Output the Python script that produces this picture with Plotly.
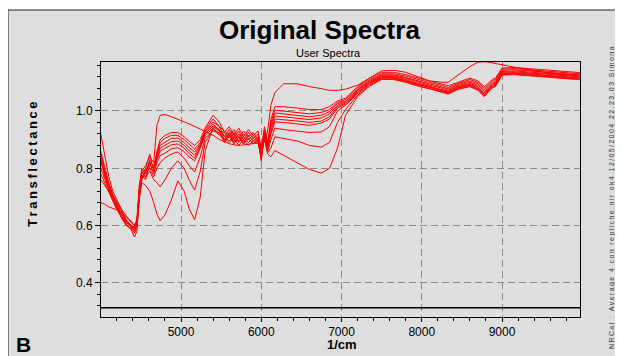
import plotly.graph_objects as go

# ---------------- data ----------------
wavenumber = [4000, 4050, 4100, 4150, 4200, 4260, 4320, 4380, 4420, 4450, 4480, 4510,
              4560, 4610, 4660, 4700, 4740, 4800,
              4880, 4960, 5040, 5100, 5170, 5240, 5300,
              5400, 5480, 5540, 5600, 5660, 5720, 5780, 5840, 5900, 5960, 6000, 6040, 6080,
              6120, 6170, 6280, 6450, 6600, 6750, 6850, 6950,
              7050, 7200, 7350, 7500, 7650, 7800, 7950, 8100, 8250, 8330, 8450, 8600, 8700,
              8780, 8840, 8880, 8920, 9000, 9150, 9400, 9700, 9970]

spectrum_01 = [0.84, 0.78, 0.73, 0.70, 0.68, 0.655, 0.63, 0.61, 0.60, 0.62, 0.74, 0.79,
               0.81, 0.84, 0.82, 0.95, 0.985, 0.988,
               0.98, 0.972, 0.962, 0.955, 0.947, 0.937, 0.928,
               0.915, 0.90, 0.892, 0.886, 0.882, 0.88, 0.882, 0.884, 0.886, 0.888, 0.88, 0.90, 0.93,
               1.02, 1.065, 1.095, 1.095, 1.085, 1.078, 1.072, 1.072,
               1.076, 1.09, 1.115, 1.14, 1.142, 1.135, 1.12, 1.105, 1.10, 1.10, 1.125, 1.155, 1.17,
               1.172, 1.17, 1.168, 1.165, 1.16, 1.152, 1.14, 1.13, 1.125]
spectrum_02 = [0.92, 0.84, 0.77, 0.72, 0.69, 0.66, 0.62, 0.60, 0.585, 0.60, 0.72, 0.80,
               0.78, 0.83, 0.80, 0.86, 0.90, 0.915,
               0.925, 0.925, 0.91, 0.895, 0.88, 0.90, 0.94,
               0.985, 0.96, 0.925, 0.945, 0.915, 0.94, 0.91, 0.935, 0.915, 0.93, 0.87, 0.945, 0.89,
               0.97, 1.015, 1.015, 1.01, 1.005, 1.005, 1.015, 1.035,
               1.045, 1.085, 1.115, 1.135, 1.135, 1.127, 1.115, 1.104, 1.094, 1.088, 1.10, 1.115, 1.105,
               1.085, 1.10, 1.11, 1.115, 1.15, 1.152, 1.147, 1.14, 1.134]
spectrum_03 = [0.86, 0.80, 0.75, 0.71, 0.68, 0.65, 0.615, 0.595, 0.58, 0.605, 0.73, 0.78,
               0.80, 0.85, 0.79, 0.85, 0.89, 0.905,
               0.915, 0.915, 0.90, 0.885, 0.867, 0.89, 0.935,
               0.972, 0.945, 0.93, 0.915, 0.935, 0.905, 0.93, 0.91, 0.925, 0.90, 0.86, 0.935, 0.885,
               0.96, 1.003, 1.00, 0.995, 0.99, 0.995, 1.005, 1.03,
               1.04, 1.08, 1.11, 1.13, 1.13, 1.122, 1.11, 1.099, 1.089, 1.082, 1.096, 1.11, 1.10,
               1.08, 1.096, 1.106, 1.11, 1.146, 1.148, 1.143, 1.136, 1.13]
spectrum_04 = [0.85, 0.79, 0.74, 0.705, 0.675, 0.64, 0.61, 0.60, 0.59, 0.60, 0.70, 0.77,
               0.79, 0.82, 0.81, 0.84, 0.88, 0.892,
               0.905, 0.905, 0.89, 0.872, 0.857, 0.885, 0.93,
               0.962, 0.945, 0.91, 0.935, 0.905, 0.93, 0.90, 0.925, 0.905, 0.92, 0.85, 0.93, 0.88,
               0.95, 0.993, 0.99, 0.985, 0.98, 0.985, 0.998, 1.025,
               1.035, 1.075, 1.106, 1.126, 1.126, 1.117, 1.105, 1.094, 1.084, 1.077, 1.092, 1.105, 1.095,
               1.074, 1.09, 1.10, 1.105, 1.142, 1.144, 1.139, 1.132, 1.126]
spectrum_05 = [0.82, 0.78, 0.735, 0.70, 0.665, 0.635, 0.60, 0.59, 0.575, 0.59, 0.71, 0.79,
               0.77, 0.81, 0.80, 0.835, 0.87, 0.88,
               0.893, 0.895, 0.88, 0.862, 0.846, 0.88, 0.925,
               0.955, 0.93, 0.925, 0.905, 0.925, 0.895, 0.92, 0.90, 0.915, 0.895, 0.83, 0.925, 0.875,
               0.94, 0.983, 0.98, 0.975, 0.97, 0.976, 0.99, 1.02,
               1.032, 1.072, 1.103, 1.123, 1.123, 1.114, 1.101, 1.09, 1.08, 1.073, 1.088, 1.10, 1.09,
               1.068, 1.086, 1.096, 1.10, 1.138, 1.14, 1.135, 1.128, 1.122]
spectrum_06 = [0.80, 0.76, 0.725, 0.69, 0.66, 0.63, 0.605, 0.585, 0.56, 0.58, 0.69, 0.76,
               0.80, 0.80, 0.79, 0.83, 0.86, 0.87,
               0.882, 0.885, 0.87, 0.852, 0.836, 0.875, 0.92,
               0.948, 0.935, 0.90, 0.925, 0.895, 0.92, 0.89, 0.915, 0.895, 0.91, 0.825, 0.92, 0.87,
               0.93, 0.972, 0.97, 0.965, 0.96, 0.965, 0.98, 1.015,
               1.028, 1.068, 1.10, 1.12, 1.12, 1.11, 1.097, 1.087, 1.077, 1.069, 1.085, 1.096, 1.085,
               1.063, 1.082, 1.092, 1.097, 1.135, 1.137, 1.132, 1.125, 1.119]
spectrum_07 = [0.83, 0.77, 0.73, 0.695, 0.66, 0.625, 0.60, 0.59, 0.59, 0.61, 0.72, 0.775,
               0.76, 0.82, 0.78, 0.82, 0.845, 0.853,
               0.868, 0.872, 0.858, 0.84, 0.826, 0.87, 0.915,
               0.94, 0.92, 0.915, 0.895, 0.915, 0.89, 0.91, 0.89, 0.905, 0.89, 0.835, 0.915, 0.865,
               0.92, 0.962, 0.96, 0.955, 0.95, 0.958, 0.972, 1.01,
               1.024, 1.064, 1.097, 1.117, 1.117, 1.107, 1.094, 1.084, 1.074, 1.066, 1.082, 1.093, 1.081,
               1.058, 1.078, 1.088, 1.094, 1.132, 1.134, 1.129, 1.122, 1.116]
spectrum_08 = [0.76, 0.74, 0.72, 0.69, 0.665, 0.64, 0.615, 0.60, 0.585, 0.60, 0.70, 0.76,
               0.79, 0.80, 0.77, 0.80, 0.82, 0.836,
               0.85, 0.857, 0.835, 0.81, 0.787, 0.84, 0.905,
               0.93, 0.925, 0.89, 0.915, 0.885, 0.91, 0.885, 0.905, 0.885, 0.90, 0.845, 0.91, 0.86,
               0.90, 0.94, 0.935, 0.93, 0.925, 0.927, 0.945, 1.00,
               1.02, 1.06, 1.094, 1.115, 1.115, 1.105, 1.092, 1.082, 1.072, 1.064, 1.08, 1.09, 1.078,
               1.055, 1.075, 1.085, 1.091, 1.13, 1.132, 1.127, 1.12, 1.114]
spectrum_09 = [0.78, 0.75, 0.715, 0.685, 0.655, 0.63, 0.61, 0.60, 0.595, 0.61, 0.71, 0.77,
               0.77, 0.79, 0.76, 0.75, 0.735, 0.76,
               0.80, 0.826, 0.80, 0.76, 0.724, 0.79, 0.89,
               0.935, 0.915, 0.905, 0.89, 0.905, 0.88, 0.90, 0.88, 0.895, 0.885, 0.85, 0.905, 0.855,
               0.87, 0.91, 0.905, 0.895, 0.88, 0.874, 0.89, 0.96,
               1.005, 1.055, 1.09, 1.112, 1.112, 1.102, 1.089, 1.079, 1.069, 1.061, 1.077, 1.087, 1.075,
               1.052, 1.072, 1.082, 1.088, 1.127, 1.129, 1.124, 1.117, 1.111]
spectrum_10 = [0.68, 0.675, 0.665, 0.66, 0.655, 0.645, 0.63, 0.615, 0.60, 0.62, 0.70, 0.75,
               0.74, 0.72, 0.68, 0.64, 0.617, 0.637,
               0.69, 0.756, 0.72, 0.66, 0.62, 0.70, 0.86,
               0.945, 0.93, 0.895, 0.92, 0.89, 0.91, 0.885, 0.905, 0.885, 0.90, 0.855, 0.90, 0.85,
               0.84, 0.862, 0.845, 0.82, 0.796, 0.783, 0.80, 0.87,
               0.985, 1.05, 1.087, 1.11, 1.11, 1.10, 1.087, 1.077, 1.067, 1.059, 1.075, 1.085, 1.072,
               1.05, 1.07, 1.08, 1.086, 1.125, 1.127, 1.122, 1.115, 1.109]

spectra = [spectrum_01, spectrum_02, spectrum_03, spectrum_04, spectrum_05,
           spectrum_06, spectrum_07, spectrum_08, spectrum_09, spectrum_10]

baseline_value = 0.313
x_tick_values = [5000, 6000, 7000, 8000, 9000]
y_tick_values = [0.4, 0.6, 0.8, 1.0]
y_tick_labels = ["0.4", "0.6", "0.8", "1.0"]

title_text = "Original Spectra"
subtitle_text = "User Spectra"
y_title = "Transflectance"
x_title = "1/cm"
side_note = "NRCal : Average 4 con repliche.nir ok4 12/05/2004 22.23.03 Simona"
panel_letter = "B"

# ---------------- layout geometry ----------------
# The page body has an 8px margin, so the figure starts at screen (8, 8).
OFF = 8
W, H = 623 - OFF, 356 - OFF
L, R, T, B = 101 - OFF, 43, 62 - OFF, 39
PW, PH = W - L - R, H - T - B
FONT = "Liberation Sans, Arial, sans-serif"


def fx(px):
    """screen x pixel -> paper fraction"""
    return (px - OFF - L) / PW


def fy(py):
    """screen y pixel -> paper fraction"""
    return (H - B - (py - OFF)) / PH


def spaced(s, sep="\u2009"):
    return sep.join(s)


fig = go.Figure()
for ys in spectra:
    fig.add_trace(go.Scatter(x=wavenumber, y=ys, mode="lines",
                             line=dict(color="#ff0000", width=1),
                             showlegend=False, hoverinfo="skip"))

fig.update_layout(
    width=W, height=H,
    margin=dict(l=L, r=R, t=T, b=B, pad=0),
    paper_bgcolor="white",
    plot_bgcolor="white",
    font=dict(family=FONT, size=12, color="black"),
    showlegend=False,
    xaxis=dict(range=[4003, 9972], tickvals=x_tick_values, tickformat="d",
               showgrid=True, gridcolor="#8a8a8a", gridwidth=1, griddash="7px,4px",
               showline=True, mirror=True, linecolor="black", linewidth=1,
               ticks="outside", ticklen=4, tickcolor="black",
               minor=dict(dtick=200, tick0=0, ticks="outside", ticklen=3, tickcolor="black",
                          showgrid=False),
               zeroline=False, tickfont=dict(size=12)),
    yaxis=dict(range=[0.281, 1.171], tickvals=y_tick_values, ticktext=y_tick_labels,
               showgrid=True, gridcolor="#8a8a8a", gridwidth=1, griddash="7px,4px",
               showline=True, mirror=True, linecolor="black", linewidth=1,
               ticks="outside", ticklen=5, tickcolor="black",
               minor=dict(dtick=0.04, tick0=0, ticks="outside", ticklen=3, tickcolor="black",
                          showgrid=False),
               zeroline=False, tickfont=dict(size=12)),
    shapes=[
        dict(type="rect", xref="paper", yref="paper",
             x0=fx(8), x1=fx(650), y0=fy(380), y1=fy(10),
             fillcolor="#dedede", line=dict(color="#222222", width=1), layer="below"),
        dict(type="line", xref="paper", yref="y", x0=0, x1=1,
             y0=baseline_value, y1=baseline_value,
             line=dict(color="black", width=1.5)),
    ],
    annotations=[
        dict(text="<b>%s</b>" % title_text, xref="paper", yref="paper",
             x=fx(319), y=fy(30), xanchor="center", yanchor="middle",
             showarrow=False, font=dict(size=26, family=FONT)),
        dict(text=subtitle_text, xref="paper", yref="paper",
             x=fx(328), y=fy(53), xanchor="center", yanchor="middle",
             showarrow=False, font=dict(size=11, family=FONT)),
        dict(text="<b>%s</b>" % spaced(y_title), xref="paper", yref="paper",
             x=fx(32), y=fy(164), xanchor="center", yanchor="middle", textangle=-90,
             showarrow=False, font=dict(size=13, family=FONT)),
        dict(text="<b>%s</b>" % x_title, xref="paper", yref="paper",
             x=fx(342), y=fy(344), xanchor="center", yanchor="middle",
             showarrow=False, font=dict(size=13, family=FONT)),
        dict(text="<b>%s</b>" % panel_letter, xref="paper", yref="paper",
             x=fx(23), y=fy(344), xanchor="center", yanchor="middle",
             showarrow=False, font=dict(size=21, family=FONT)),
        dict(text=spaced(side_note), xref="paper", yref="paper",
             x=fx(612), y=fy(198), xanchor="center", yanchor="middle", textangle=-90,
             showarrow=False, font=dict(size=7, family=FONT, color="#333333")),
    ],
)

fig.write_html("out.html")
